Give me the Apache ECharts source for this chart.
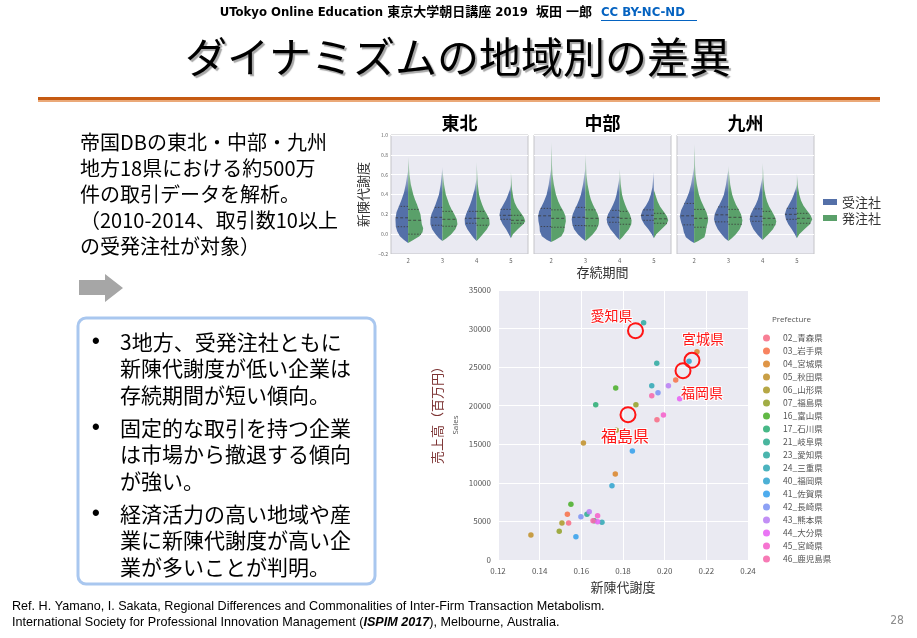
<!DOCTYPE html>
<html>
<head>
<meta charset="utf-8">
<script src="https://cdn.jsdelivr.net/npm/echarts/dist/echarts.min.js"></script>
<style>
html, body { margin: 0; padding: 0; background: #fff; }
#main { width: 917px; height: 638px; }
</style>
</head>
<body>
<div id="main"></div>
<script>
var regions = ['東北', '中部', '九州'];
var periods = ['2', '3', '4', '5'];
var firmTypes = ['受注社', '発注社'];

// violin outlines per 存続期間: [新陳代謝度, half width (share of band)], bottom -> top
var tohokuJuchu = [
    [[-0.09,0],[-0.06,0.12],[-0.02,0.24],[0.03,0.32],[0.08,0.36],[0.15,0.37],[0.22,0.34],[0.28,0.27],[0.35,0.19],[0.42,0.12],[0.5,0.07],[0.58,0.035],[0.64,0]],
    [[-0.07,0],[-0.04,0.1],[0,0.2],[0.05,0.3],[0.1,0.35],[0.15,0.35],[0.2,0.32],[0.25,0.26],[0.3,0.2],[0.35,0.15],[0.4,0.1],[0.5,0.05],[0.6,0.02],[0.68,0]],
    [[-0.07,0],[-0.04,0.08],[0,0.17],[0.05,0.27],[0.1,0.34],[0.15,0.35],[0.2,0.31],[0.25,0.25],[0.3,0.19],[0.35,0.14],[0.4,0.1],[0.45,0.06],[0.5,0.035],[0.56,0]],
    [[-0.04,0],[0,0.06],[0.05,0.14],[0.1,0.24],[0.15,0.31],[0.2,0.33],[0.25,0.3],[0.3,0.22],[0.35,0.14],[0.4,0.08],[0.45,0.03],[0.5,0]]
];
var tohokuHatchu = [
    [[-0.09,0],[-0.06,0.15],[-0.02,0.33],[0.02,0.42],[0.06,0.44],[0.1,0.4],[0.15,0.38],[0.2,0.36],[0.25,0.31],[0.3,0.26],[0.35,0.2],[0.4,0.15],[0.5,0.08],[0.6,0.04],[0.7,0.02],[0.78,0]],
    [[-0.07,0],[-0.04,0.12],[0,0.26],[0.05,0.38],[0.1,0.44],[0.15,0.42],[0.2,0.35],[0.25,0.27],[0.3,0.2],[0.35,0.15],[0.4,0.1],[0.5,0.05],[0.58,0.025],[0.65,0]],
    [[-0.07,0],[-0.04,0.08],[0,0.18],[0.05,0.3],[0.1,0.38],[0.15,0.37],[0.2,0.3],[0.25,0.22],[0.3,0.16],[0.35,0.11],[0.4,0.07],[0.5,0.035],[0.6,0.02],[0.73,0]],
    [[-0.04,0],[0,0.06],[0.05,0.2],[0.1,0.36],[0.13,0.42],[0.17,0.38],[0.22,0.28],[0.27,0.18],[0.32,0.11],[0.37,0.07],[0.45,0.035],[0.55,0.02],[0.63,0]]
];
var chubuJuchu = [
    [[-0.08,0],[-0.06,0.12],[-0.02,0.27],[0.03,0.33],[0.08,0.34],[0.13,0.37],[0.18,0.38],[0.23,0.35],[0.28,0.28],[0.33,0.21],[0.4,0.13],[0.5,0.07],[0.6,0.03],[0.66,0]],
    [[-0.07,0],[-0.04,0.1],[0,0.22],[0.05,0.33],[0.1,0.38],[0.15,0.4],[0.2,0.37],[0.25,0.31],[0.3,0.24],[0.35,0.18],[0.4,0.13],[0.5,0.07],[0.6,0.03],[0.66,0]],
    [[-0.06,0],[-0.03,0.08],[0,0.15],[0.05,0.27],[0.1,0.35],[0.15,0.38],[0.2,0.34],[0.25,0.26],[0.3,0.19],[0.35,0.13],[0.4,0.09],[0.5,0.04],[0.58,0]],
    [[-0.04,0],[0,0.06],[0.05,0.16],[0.1,0.28],[0.15,0.36],[0.19,0.38],[0.24,0.33],[0.29,0.23],[0.34,0.15],[0.4,0.09],[0.47,0.045],[0.55,0.025],[0.63,0]]
];
var chubuHatchu = [
    [[-0.08,0],[-0.06,0.12],[-0.02,0.3],[0.03,0.38],[0.08,0.4],[0.13,0.43],[0.18,0.42],[0.23,0.36],[0.28,0.28],[0.33,0.21],[0.4,0.14],[0.5,0.08],[0.6,0.04],[0.7,0.025],[0.8,0.018],[0.93,0]],
    [[-0.07,0],[-0.04,0.1],[0,0.22],[0.05,0.33],[0.1,0.39],[0.15,0.4],[0.2,0.36],[0.25,0.29],[0.3,0.22],[0.35,0.16],[0.4,0.12],[0.5,0.065],[0.6,0.03],[0.7,0.02],[0.81,0]],
    [[-0.06,0],[-0.03,0.08],[0,0.15],[0.05,0.27],[0.1,0.34],[0.14,0.35],[0.2,0.3],[0.25,0.22],[0.3,0.16],[0.35,0.11],[0.4,0.07],[0.5,0.035],[0.58,0.02],[0.66,0]],
    [[-0.04,0],[0,0.07],[0.05,0.22],[0.1,0.37],[0.14,0.42],[0.18,0.38],[0.23,0.28],[0.28,0.18],[0.33,0.11],[0.38,0.06],[0.45,0]]
];
var kyushuJuchu = [
    [[-0.09,0],[-0.07,0.1],[-0.03,0.24],[0.02,0.3],[0.07,0.33],[0.12,0.38],[0.18,0.42],[0.24,0.38],[0.3,0.3],[0.36,0.22],[0.42,0.15],[0.5,0.09],[0.6,0.04],[0.68,0]],
    [[-0.07,0],[-0.04,0.1],[0,0.2],[0.05,0.31],[0.1,0.38],[0.15,0.42],[0.2,0.4],[0.25,0.34],[0.3,0.26],[0.35,0.19],[0.4,0.13],[0.5,0.07],[0.6,0.03],[0.64,0]],
    [[-0.06,0],[-0.03,0.08],[0,0.16],[0.05,0.27],[0.1,0.34],[0.15,0.38],[0.2,0.35],[0.25,0.28],[0.3,0.2],[0.35,0.14],[0.4,0.1],[0.5,0.05],[0.58,0]],
    [[-0.04,0],[0,0.06],[0.05,0.15],[0.1,0.25],[0.15,0.32],[0.2,0.35],[0.25,0.31],[0.3,0.23],[0.35,0.15],[0.4,0.09],[0.45,0.04],[0.5,0]]
];
var kyushuHatchu = [
    [[-0.09,0],[-0.07,0.12],[-0.03,0.3],[0.02,0.34],[0.07,0.36],[0.12,0.4],[0.16,0.41],[0.22,0.36],[0.28,0.28],[0.34,0.2],[0.4,0.14],[0.5,0.08],[0.6,0.04],[0.7,0.025],[0.8,0.018],[0.91,0]],
    [[-0.07,0],[-0.04,0.1],[0,0.22],[0.05,0.33],[0.1,0.39],[0.14,0.41],[0.2,0.37],[0.25,0.3],[0.3,0.22],[0.35,0.16],[0.4,0.11],[0.5,0.055],[0.6,0.025],[0.69,0]],
    [[-0.06,0],[-0.03,0.08],[0,0.17],[0.05,0.3],[0.1,0.38],[0.13,0.4],[0.18,0.35],[0.23,0.27],[0.28,0.19],[0.33,0.13],[0.38,0.09],[0.45,0.05],[0.55,0.025],[0.63,0.018],[0.72,0]],
    [[-0.04,0],[0,0.07],[0.05,0.22],[0.1,0.38],[0.15,0.45],[0.19,0.4],[0.24,0.29],[0.29,0.19],[0.34,0.12],[0.4,0.07],[0.47,0.035],[0.54,0.02],[0.61,0]]
];

// quartiles [25%, 50%, 75%] per 存続期間
var tohokuJuchuQ = [[0.075,0.165,0.28],[0.09,0.17,0.27],[0.11,0.16,0.23],[0.15,0.19,0.25]];
var tohokuHatchuQ = [[0.0,0.14,0.25],[0.08,0.15,0.23],[0.09,0.16,0.23],[0.11,0.14,0.19]];
var chubuJuchuQ = [[0.077,0.185,0.26],[0.087,0.17,0.27],[0.12,0.17,0.24],[0.14,0.19,0.245]];
var chubuHatchuQ = [[0.07,0.16,0.245],[0.084,0.16,0.245],[0.10,0.16,0.23],[0.11,0.155,0.21]];
var kyushuJuchuQ = [[0.094,0.185,0.31],[0.124,0.195,0.275],[0.13,0.18,0.255],[0.15,0.2,0.26]];
var kyushuHatchuQ = [[0.07,0.16,0.25],[0.10,0.17,0.25],[0.094,0.16,0.23],[0.11,0.16,0.21]];

// scatter: prefectures, 新陳代謝度 and 売上高 (百万円)
var prefectures = ['02_青森県','03_岩手県','04_宮城県','05_秋田県','06_山形県','07_福島県','16_富山県','17_石川県','21_岐阜県',
    '23_愛知県','24_三重県','40_福岡県','41_佐賀県','42_長崎県','43_熊本県','44_大分県','45_宮崎県','46_鹿児島県'];
var prefRate = [[0.1963,0.1539],[0.2053,0.1533],[0.2155,0.1763],[0.161,0.1358],[0.1768,0.1507],[0.1862,0.1494],[0.1765,0.155],
    [0.1669,0.1662],[0.1627],[0.1899,0.1962],[0.1938,0.1699],[0.2117,0.1747],[0.1845,0.1574],[0.1968,0.1598],[0.2018,0.1638],
    [0.2072,0.1678],[0.1994,0.1678],[0.1938,0.1656]];
var prefSales = [[18191,4796],[23333,5920],[27006,11148],[15167,3241],[16809,4796],[20136,3716],[22296,7216],
    [20136,5099],[5920],[30766,25494],[22599,4883],[25753,9636],[14130,3025],[21691,5617],[22599,6266],
    [20913,4969],[18796,5747],[21302,5099]];
var highlightNames = ['愛知県', '宮城県', '福岡県', '福島県'];
var highlightRate = [0.186, 0.2131, 0.2088, 0.1824];
var highlightSales = [29730, 25883, 24543, 18840];

var prefColors = ['#f77189','#f7754f','#dc8932','#c39532','#ae9d31','#97a431','#50b131','#33b07a','#35ae93',
    '#36ada4','#37abb7','#39a7d0','#3ba3ec','#8197f4','#bb83f4','#e866f4','#f565cc','#f66bad'];

var CJK = "'Noto Sans CJK JP', 'Noto Sans', sans-serif";
var NARROW = "'Liberation Sans Narrow', 'DejaVu Sans Condensed', 'Noto Sans CJK JP', sans-serif";
var LATIN = "'Liberation Sans', sans-serif";

function widthAt(prof, v) {
    for (var k = 1; k < prof.length; k++) {
        if (v <= prof[k][0]) {
            var a = prof[k - 1], b = prof[k];
            return a[1] + (b[1] - a[1]) * (v - a[0]) / (b[0] - a[0]);
        }
    }
    return 0;
}

function violinHalf(profiles, quarts, side, full, light) {
    return function (params, api) {
        var i = params.dataIndex;
        var prof = profiles[i];
        var cx = api.coord([i, 0])[0];
        var band = api.size([1, 0])[0];
        var edge = prof.map(function (p) {
            return [cx + side * p[1] * band, api.coord([i, p[0]])[1]];
        });
        var mid = prof.slice(1, -1).reverse().map(function (p) {
            return [cx, api.coord([i, p[0]])[1]];
        });
        var yTop = api.coord([i, prof[prof.length - 1][0]])[1];
        var yBody = api.coord([i, 0.42])[1];
        var children = [{
            type: 'polygon',
            shape: { points: edge.concat(mid) },
            style: {
                fill: new echarts.graphic.LinearGradient(0, yTop, 0, yBody,
                    [{ offset: 0, color: light }, { offset: 1, color: full }], true)
            }
        }];
        quarts[i].forEach(function (q, k) {
            var y = api.coord([i, q])[1];
            children.push({
                type: 'line',
                shape: { x1: cx, y1: y, x2: cx + side * widthAt(prof, q) * band, y2: y },
                style: { stroke: '#3a3a3a', lineWidth: 0.8, lineDash: k === 1 ? [3, 2] : [1.5, 1.5] }
            });
        });
        return { type: 'group', children: children };
    };
}

var violinSets = [
    [tohokuJuchu, tohokuJuchuQ, tohokuHatchu, tohokuHatchuQ],
    [chubuJuchu, chubuJuchuQ, chubuHatchu, chubuHatchuQ],
    [kyushuJuchu, kyushuJuchuQ, kyushuHatchu, kyushuHatchuQ]
];
var blue = '#5470a8', blueLight = 'rgba(84,112,168,0.25)';
var green = '#5aa06a', greenLight = 'rgba(90,160,106,0.25)';

var panelLeft = [391, 534, 677];
var grids = [], xAxes = [], yAxes = [], series = [];

regions.forEach(function (r, g) {
    grids.push({
        left: panelLeft[g], top: 135, width: 137, height: 119,
        show: true, backgroundColor: '#eaeaf2', borderColor: '#c4c4c8', borderWidth: 1
    });
    xAxes.push({
        type: 'category', gridIndex: g, data: periods,
        name: g === 1 ? '存続期間' : '', nameLocation: 'middle', nameGap: 12,
        nameTextStyle: { fontSize: 13, color: '#333', fontFamily: CJK },
        axisLine: { show: false }, axisTick: { show: false },
        axisLabel: { fontSize: 6, color: '#666', margin: 4 },
        splitLine: { show: false }
    });
    yAxes.push({
        type: 'value', gridIndex: g, min: -0.2, max: 1.0, interval: 0.2,
        name: g === 0 ? '新陳代謝度' : '', nameLocation: 'middle', nameGap: 21,
        nameTextStyle: { fontSize: 13, color: '#333', fontFamily: CJK },
        axisLine: { show: false }, axisTick: { show: false },
        axisLabel: {
            show: g === 0, fontSize: 5, color: '#666', margin: 3,
            formatter: function (v) { return (v < 0 ? '\u2212' : '') + Math.abs(v).toFixed(1); }
        },
        splitLine: { lineStyle: { color: '#ffffff', width: 1 } }
    });
    var set = violinSets[g];
    [[set[0], set[1], -1, blue, blueLight, 0], [set[2], set[3], 1, green, greenLight, 1]].forEach(function (s) {
        series.push({
            type: 'custom', name: firmTypes[s[5]], xAxisIndex: g, yAxisIndex: g,
            itemStyle: { color: s[3] },
            encode: { x: 0, y: [1, 2, 3] },
            data: periods.map(function (p, i) { return [i].concat(s[1][i]); }),
            renderItem: violinHalf(s[0], s[1], s[2], s[3], s[4]),
            silent: true, z: 3
        });
    });
});

// scatter grid
grids.push({ left: 498, top: 290, width: 250, height: 270, show: true, backgroundColor: '#eaeaf2', borderWidth: 0 });
xAxes.push({
    type: 'value', gridIndex: 3, min: 0.12, max: 0.24, interval: 0.02,
    name: '新陳代謝度', nameLocation: 'middle', nameGap: 21,
    nameTextStyle: { fontSize: 13, color: '#333', fontFamily: CJK },
    axisLine: { show: false }, axisTick: { show: false },
    axisLabel: { fontSize: 8, color: '#555', margin: 7, formatter: function (v) { return v.toFixed(2); } },
    splitLine: { lineStyle: { color: '#ffffff', width: 1 } }
});
yAxes.push({
    type: 'value', gridIndex: 3, min: 0, max: 35000, interval: 5000,
    name: 'Sales', nameLocation: 'middle', nameGap: 38,
    nameTextStyle: { fontSize: 8, color: '#555', fontFamily: "'Open Sans', sans-serif" },
    axisLine: { show: false }, axisTick: { show: false },
    axisLabel: { fontSize: 8, color: '#555', margin: 7, formatter: function (v) { return String(v); } },
    splitLine: { lineStyle: { color: '#ffffff', width: 1 } }
});

prefectures.forEach(function (p, k) {
    series.push({
        type: 'scatter', name: p, xAxisIndex: 3, yAxisIndex: 3,
        symbolSize: 5.5,
        itemStyle: { color: prefColors[k], opacity: 0.9 },
        data: prefRate[k].map(function (x, j) { return [x, prefSales[k][j]]; }),
        z: 3
    });
});

var labelOffsets = [[-24, -15], [11, -22], [19, 22], [-3, 21]];
var labelSizes = [14, 14, 14, 16];
series.push({
    type: 'scatter', name: '注目県', xAxisIndex: 3, yAxisIndex: 3,
    symbolSize: 15, silent: true, z: 5,
    itemStyle: { color: 'rgba(0,0,0,0)', borderColor: '#ff1414', borderWidth: 2, opacity: 1 },
    label: {
        show: true, formatter: '{b}', color: '#ff1414', fontFamily: CJK,
        textBorderColor: 'rgba(255,255,255,0.9)', textBorderWidth: 2
    },
    data: highlightNames.map(function (n, k) {
        return {
            name: n, value: [highlightRate[k], highlightSales[k]],
            label: { offset: labelOffsets[k], fontSize: labelSizes[k] }
        };
    })
});

function txt(text, x, y, size, extra) {
    var st = { text: text, x: x, y: y, fontSize: size, fontFamily: CJK, fill: '#000', align: 'left', verticalAlign: 'middle' };
    for (var k in extra) st[k] = extra[k];
    return { type: 'text', style: st, z: 10 };
}

var introLines = ['帝国DBの東北・中部・九州', '地方18県における約500万', '件の取引データを解析。', '（2010-2014、取引数10以上', 'の受発注社が対象）'];
var bulletLines = [
    ['3地方、受発注社ともに', '新陳代謝度が低い企業は', '存続期間が短い傾向。'],
    ['固定的な取引を持つ企業', 'は市場から撤退する傾向', 'が強い。'],
    ['経済活力の高い地域や産', '業に新陳代謝度が高い企', '業が多いことが判明。']
];

var elements = [
    txt('UTokyo Online Education 東京大学朝日講座 2019  坂田 一郎', 592, 13, 13, { align: 'right', fontFamily: NARROW, fontWeight: 'bold' }),
    txt('CC BY-NC-ND', 601, 13, 13, { fontFamily: NARROW, fontWeight: 'bold', fill: '#0563c1' }),
    { type: 'rect', shape: { x: 601, y: 20, width: 96, height: 1 }, style: { fill: '#0563c1' } },
    txt('ダイナミズムの地域別の差異', 458, 57, 42, {
        align: 'center', textShadowColor: 'rgba(0,0,0,0.35)', textShadowOffsetX: 2, textShadowOffsetY: 2, textShadowBlur: 1
    }),
    { type: 'rect', shape: { x: 38, y: 97, width: 842, height: 3 }, style: { fill: '#c55a11' } },
    { type: 'rect', shape: { x: 38, y: 100, width: 842, height: 2 }, style: { fill: '#eba978' } },
    { type: 'polygon', shape: { points: [[79, 280], [105, 280], [105, 274], [123, 288], [105, 302], [105, 295], [79, 295]] }, style: { fill: '#a6a6a6' } },
    { type: 'rect', shape: { x: 78, y: 318, width: 297, height: 266, r: 8 }, style: { fill: '#fff', stroke: '#a9c7ef', lineWidth: 3 } },
    txt('Ref. H. Yamano, I. Sakata, Regional Differences and Commonalities of Inter-Firm Transaction Metabolism.', 12, 607, 12.6, { fontFamily: LATIN }),
    txt('International Society for Professional Innovation Management ({b|ISPIM 2017}), Melbourne, Australia.', 12, 623, 12.6, {
        fontFamily: LATIN,
        rich: { b: { fontSize: 12.6, fontWeight: 'bold', fontStyle: 'italic', fontFamily: LATIN } }
    }),
    txt('28', 897, 621, 12, { align: 'center', fill: '#8c8c8c', fontFamily: NARROW }),
    { type: 'text', x: 437, y: 412, rotation: Math.PI / 2, z: 10,
        style: { text: '売上高（百万円）', fontSize: 13, fontFamily: CJK, fill: '#7d3434', align: 'center', verticalAlign: 'middle' } },
    txt('Prefecture', 772, 320, 8, { fill: '#555', fontFamily: "'Open Sans', sans-serif" })
];

introLines.forEach(function (l, k) { elements.push(txt(l, 80, 142 + k * 26, 20)); });
var bulletTop = [342, 428, 514];
bulletLines.forEach(function (group, b) {
    elements.push(txt('•', 92, bulletTop[b], 22, { fontFamily: LATIN, fontWeight: 'bold' }));
    group.forEach(function (l, k) { elements.push(txt(l, 120, bulletTop[b] + k * 26.5, 21)); });
});
regions.forEach(function (r, g) {
    elements.push(txt(r, panelLeft[g] + 68.5, 123, 18, { align: 'center', fontWeight: 'bold' }));
});

var myChart = echarts.init(document.getElementById('main'));
var option = {
    backgroundColor: '#ffffff',
    animation: false,
    textStyle: { fontFamily: CJK },
    grid: grids,
    xAxis: xAxes,
    yAxis: yAxes,
    legend: [{
        data: firmTypes, orient: 'vertical', left: 818, top: 189,
        icon: 'rect', itemWidth: 14, itemHeight: 6, itemGap: 0,
        textStyle: { fontSize: 13, lineHeight: 16, color: '#333', fontFamily: CJK },
        selectedMode: false
    }, {
        data: prefectures, orient: 'vertical', left: 758, top: 328,
        icon: 'circle', itemWidth: 7, itemHeight: 7, itemGap: 3,
        textStyle: { fontSize: 8.5, lineHeight: 10, color: '#555', fontFamily: CJK, padding: [0, 0, 0, 8] },
        selectedMode: false
    }],
    graphic: { elements: elements },
    series: series
};
myChart.setOption(option);
</script>
</body>
</html>
